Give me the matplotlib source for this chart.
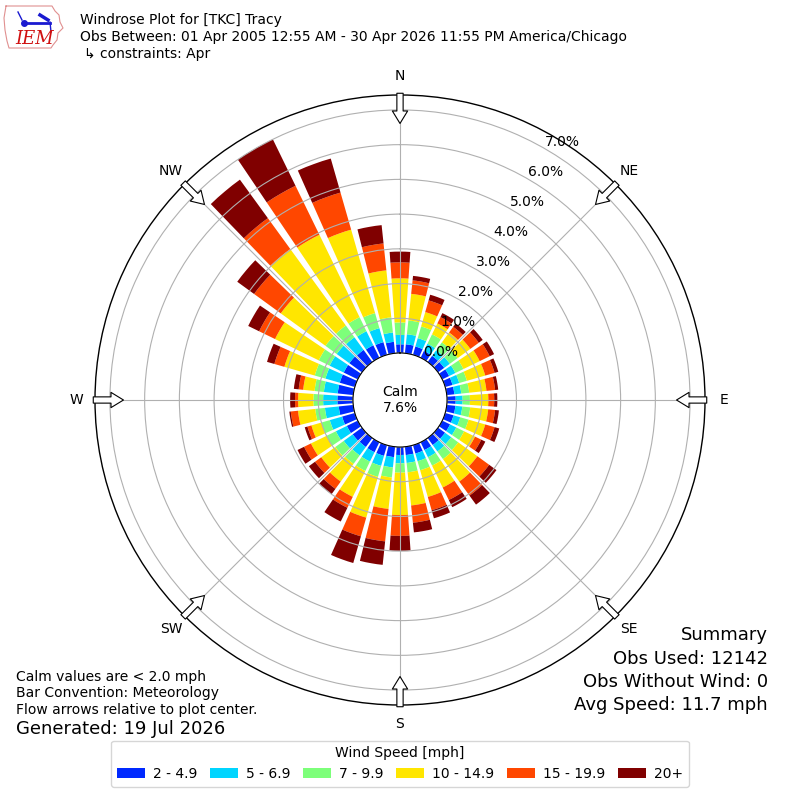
import numpy as np
import matplotlib
matplotlib.use("Agg")
import matplotlib.pyplot as plt
from matplotlib.lines import Line2D

# ---------------- data (percent of observations) ----------------
directions = list(range(0, 360, 10))
speed_labels = ["2 - 4.9", "5 - 6.9", "7 - 9.9", "10 - 14.9", "15 - 19.9", "20+"]

pct_2_49 = [0.25, 0.26, 0.25, 0.22, 0.22, 0.22, 0.22, 0.22, 0.22, 0.25, 0.25, 0.25,
            0.25, 0.25, 0.25, 0.25, 0.25, 0.24, 0.23, 0.30, 0.32, 0.32, 0.32, 0.33,
            0.35, 0.38, 0.42, 0.45, 0.45, 0.45, 0.45, 0.45, 0.43, 0.40, 0.38, 0.33]
pct_5_69 = [0.27, 0.29, 0.25, 0.23, 0.20, 0.20, 0.20, 0.20, 0.20, 0.20, 0.20, 0.20,
            0.20, 0.22, 0.23, 0.23, 0.23, 0.23, 0.24, 0.30, 0.30, 0.30, 0.30, 0.32,
            0.35, 0.37, 0.40, 0.41, 0.40, 0.43, 0.45, 0.45, 0.45, 0.45, 0.42, 0.27]
pct_7_99 = [0.36, 0.40, 0.35, 0.30, 0.28, 0.28, 0.26, 0.23, 0.23, 0.21, 0.23, 0.25,
            0.25, 0.25, 0.27, 0.27, 0.27, 0.27, 0.27, 0.29, 0.33, 0.30, 0.30, 0.30,
            0.30, 0.25, 0.28, 0.28, 0.27, 0.32, 0.35, 0.40, 0.42, 0.45, 0.45, 0.44]
pct_10_149 = [1.27, 0.77, 0.43, 0.35, 0.35, 0.45, 0.52, 0.55, 0.50, 0.53, 0.52, 0.50,
              0.35, 0.68, 0.80, 0.70, 0.80, 0.96, 1.22, 0.91, 1.22, 0.83, 0.63, 0.50,
              0.50, 0.30, 0.50, 0.44, 0.33, 0.91, 1.40, 1.59, 2.72, 2.64, 2.50, 1.36]
pct_15_199 = [0.46, 0.39, 0.35, 0.20, 0.20, 0.30, 0.32, 0.28, 0.25, 0.17, 0.20, 0.28,
              0.20, 0.42, 0.50, 0.40, 0.40, 0.50, 0.60, 0.94, 0.56, 0.35, 0.26, 0.22,
              0.22, 0.12, 0.21, 0.09, 0.13, 0.30, 0.51, 0.95, 1.10, 1.57, 1.11, 0.78]
pct_20p = [0.31, 0.13, 0.17, 0.13, 0.12, 0.14, 0.14, 0.11, 0.09, 0.09, 0.11, 0.14,
           0.13, 0.26, 0.32, 0.23, 0.24, 0.28, 0.43, 0.68, 0.80, 0.44, 0.19, 0.22,
           0.21, 0.08, 0.04, 0.14, 0.14, 0.22, 0.35, 0.60, 1.37, 1.49, 1.02, 0.53]
calm_pct = 7.6

radial_ticks = [0, 1, 2, 3, 4, 5, 6, 7]
compass_labels = ["N", "NE", "E", "SE", "S", "SW", "W", "NW"]

series = [pct_2_49, pct_5_69, pct_7_99, pct_10_149, pct_15_199, pct_20p]

# ---------------- figure ----------------
fig = plt.figure(figsize=(8, 8), dpi=100)
ax = fig.add_axes([95 / 800, 95 / 800, 610 / 800, 610 / 800], projection="polar")
ax.set_theta_zero_location("N")
ax.set_theta_direction(-1)

colors = plt.cm.jet(np.arange(1, 7) / 6.0)
theta = np.radians(directions)
width = np.radians(8.0)
bottom = np.zeros(len(directions))
handles = []
for vals, col, lab in zip(series, colors, speed_labels):
    vals = np.array(vals)
    b = ax.bar(theta, vals, width=width, bottom=bottom, color=col, label=lab,
               linewidth=0, zorder=1)
    handles.append(b)
    bottom = bottom + vals

rmax = 7.43
ax.set_rorigin(-1.354)
ax.set_ylim(0, rmax)
ax.set_yticks(radial_ticks)
ax.set_yticklabels([f"{v:.1f}%" for v in radial_ticks], fontsize=10)
ax.set_rlabel_position(30)
ax.set_xticks(np.radians(np.arange(0, 360, 45)))
ax.set_xticklabels(compass_labels, fontsize=10)
ax.tick_params(axis="x", pad=3)
ax.grid(True, color="#b0b0b0", linewidth=0.8)
ax.spines["polar"].set_linewidth(1.0)

# flow arrows at the rim pointing to the center
for ang in np.radians(np.arange(0, 360, 45)):
    ax.annotate("", xy=(ang, rmax - 0.82), xytext=(ang, rmax + 0.05),
                xycoords="data", textcoords="data", annotation_clip=False,
                arrowprops=dict(facecolor="white", edgecolor="black", lw=0.8,
                                width=4.5, headwidth=11, headlength=9, shrink=0),
                zorder=5)

ax.text(0.5, 0.5, f"Calm\n{calm_pct:.1f}%", transform=ax.transAxes,
        ha="center", va="center", fontsize=10)

# ---------------- header ----------------
fig.text(80 / 800, 1 - 20 / 800, "Windrose Plot for [TKC] Tracy", fontsize=10, va="center")
fig.text(80 / 800, 1 - 37 / 800,
         "Obs Between: 01 Apr 2005 12:55 AM - 30 Apr 2026 11:55 PM America/Chicago",
         fontsize=10, va="center")
fig.text(84 / 800, 1 - 54 / 800, "\u21b3 constraints: Apr", fontsize=10, va="center")

# simple IEM logo
def px(x, y):
    return x / 800, 1 - y / 800

outline = [(6, 6), (52, 6), (55, 11), (59, 15), (60, 22), (63, 28), (58, 33),
           (57, 40), (53, 45), (51, 48), (9, 48), (7, 41), (5, 30), (4, 18), (6, 6)]
ox, oy = zip(*[px(*p) for p in outline])
fig.add_artist(Line2D(ox, oy, color="#e09090", lw=0.8))
bx, by = zip(*[px(24, 23), px(50, 23)])
fig.add_artist(Line2D(bx, by, color="#1a1ad0", lw=2))
bx, by = zip(*[px(40, 15), px(48, 20)])
fig.add_artist(Line2D(bx, by, color="#1a1ad0", lw=2.5))
bx, by = zip(*[px(18, 12), px(22, 20)])
fig.add_artist(Line2D(bx, by, color="#1a1ad0", lw=1))
bx, by = zip(*[px(50, 22), px(51, 32)])
fig.add_artist(Line2D(bx, by, color="#1a1ad0", lw=1))
fig.add_artist(Line2D([px(24, 23)[0]], [px(24, 23)[1]], marker="o", ms=4,
                      color="#1a1ad0"))
fig.text(35 / 800, 1 - 38.5 / 800, "IEM", fontsize=13, color="#d01010", style="italic",
         family="DejaVu Serif", ha="center", va="center")

# ---------------- footer ----------------
fig.text(16 / 800, 1 - 677 / 800, "Calm values are < 2.0 mph", fontsize=10, va="center")
fig.text(16 / 800, 1 - 693 / 800, "Bar Convention: Meteorology", fontsize=10, va="center")
fig.text(16 / 800, 1 - 710 / 800, "Flow arrows relative to plot center.", fontsize=10, va="center")
fig.text(16 / 800, 1 - 729 / 800, "Generated: 19 Jul 2026", fontsize=13, va="center")

fig.text(768 / 800, 1 - 635 / 800, "Summary", fontsize=13, ha="right", va="center")
fig.text(768 / 800, 1 - 659 / 800, "Obs Used: 12142", fontsize=13, ha="right", va="center")
fig.text(768 / 800, 1 - 682 / 800, "Obs Without Wind: 0", fontsize=13, ha="right", va="center")
fig.text(768 / 800, 1 - 705 / 800, "Avg Speed: 11.7 mph", fontsize=13, ha="right", va="center")

fig.legend(handles=handles, labels=speed_labels, loc="lower center",
           bbox_to_anchor=(0.5, 0.008), ncol=6, title="Wind Speed [mph]",
           fontsize=10, title_fontsize=10, columnspacing=0.9, handletextpad=0.6,
           frameon=True, edgecolor="#cccccc")

fig.savefig("out.png", dpi=100)
